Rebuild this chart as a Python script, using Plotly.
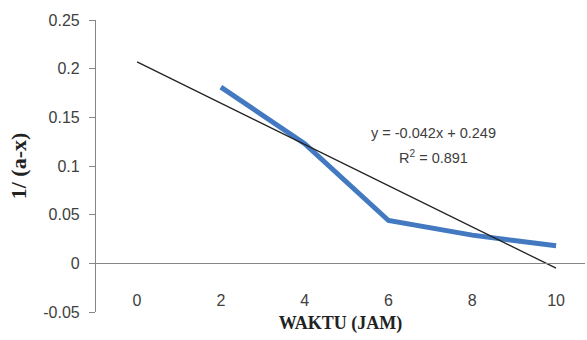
import plotly.graph_objects as go

waktu = [2, 4, 6, 8, 10]
inv_ax = [0.181, 0.123, 0.044, 0.029, 0.018]
trend_x = [0, 10]
trend_y = [0.207, -0.005]
x_ticks = [0, 2, 4, 6, 8, 10]
y_ticks = [-0.05, 0, 0.05, 0.1, 0.15, 0.2, 0.25]
y_tick_text = ["-0.05", "0", "0.05", "0.1", "0.15", "0.2", "0.25"]
eq_text = "y = -0.042x + 0.249"
r2_text = "R<sup>2</sup> = 0.891"

fig = go.Figure()
fig.add_trace(go.Scatter(x=waktu, y=inv_ax, mode="lines",
                         line=dict(color="#4279c0", width=5), showlegend=False))
fig.add_trace(go.Scatter(x=trend_x, y=trend_y, mode="lines",
                         line=dict(color="#222222", width=1.3), showlegend=False))

ann_font = dict(family="Liberation Sans", size=14.5, color="#404040")
fig.add_annotation(x=7.07, y=0.1336, xref="x", yref="y", text=eq_text,
                   showarrow=False, font=ann_font)
fig.add_annotation(x=7.07, y=0.109, xref="x", yref="y", text=r2_text,
                   showarrow=False, font=ann_font)

fig.update_layout(
    width=587, height=340,
    margin=dict(l=96, r=2, t=20, b=28),
    paper_bgcolor="white", plot_bgcolor="white",
    xaxis=dict(range=[-0.98, 10.69], tickvals=x_ticks, ticktext=[str(v) for v in x_ticks],
               showgrid=False, zeroline=False, showline=True, linecolor="#868686", linewidth=1.2,
               anchor="free", position=1/6, ticks="", ticklabelstandoff=22, automargin=False,
               tickfont=dict(family="Liberation Sans", size=16, color="#404040"),
               title=dict(text="<b>WAKTU (JAM)</b>", standoff=8,
                          font=dict(family="Liberation Serif", size=18, color="#222222"))),
    yaxis=dict(range=[-0.05, 0.25], tickvals=y_ticks, ticktext=y_tick_text,
               showgrid=False, zeroline=False, showline=True, linecolor="#868686", linewidth=1.2,
               ticks="outside", ticklen=6, tickcolor="#868686", automargin=False,
               ticklabelstandoff=6,
               tickfont=dict(family="Liberation Sans", size=16, color="#404040"),
               title=dict(text="<b>1/ (a-x)</b>", standoff=10,
                          font=dict(family="Liberation Serif", size=22, color="#222222"))),
)

fig.write_html("out.html", post_script="document.body.style.margin='0';",
               config={"displayModeBar": False})
